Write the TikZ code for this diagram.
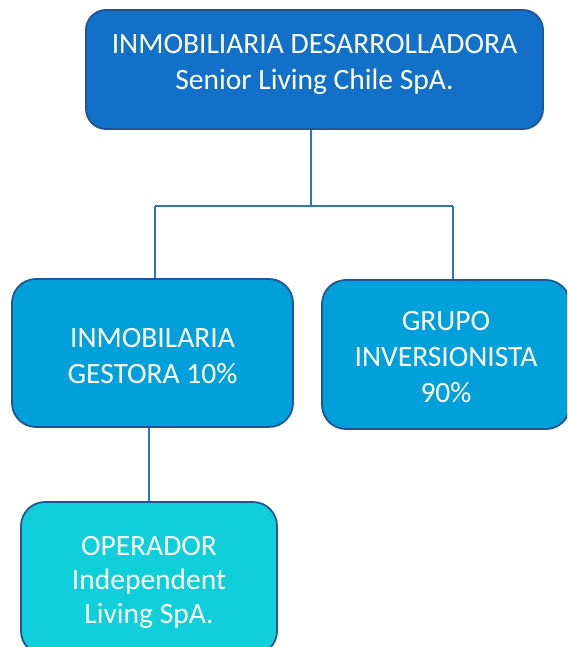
\documentclass[tikz,border=0pt]{standalone}
\usepackage{fontspec}
\setmainfont{Carlito}
\definecolor{topfill}{HTML}{1270C8}
\definecolor{midfill}{HTML}{02A0DA}
\definecolor{botfill}{HTML}{0FCFDA}
\definecolor{edgeblue}{HTML}{1F5596}
\definecolor{linkblue}{HTML}{2E75C0}
\begin{document}
\begin{tikzpicture}[x=1pt,y=-1pt,
  boxbase/.style={draw=edgeblue, line width=1.8pt, inner sep=0pt},
  topbox/.style={boxbase, fill=topfill, rounded corners=20pt},
  midbox/.style={boxbase, fill=midfill, rounded corners=24pt},
  botbox/.style={boxbase, fill=botfill, rounded corners=24pt},
  label/.style={text=white, align=center, font=\fontsize{29.5}{36}\selectfont, inner sep=0pt},
  link/.style={draw=linkblue, line width=2.2pt}]
\useasboundingbox (0,0) rectangle (567,647);
\clip (0,0) rectangle (567,647);
% boxes
\node[topbox, minimum width=457pt, minimum height=119pt] (top) at (314.5,69.5) {};
\node[midbox, minimum width=281pt, minimum height=148pt] (left) at (152.5,353) {};
\node[midbox, minimum width=248pt, minimum height=149pt] (right) at (446,354.5) {};
\node[botbox, minimum width=256pt, minimum height=153pt] (bot) at (149,578.5) {};
% texts
\node[label] (toptext) at (314.5,64) {INMOBILIARIA DESARROLLADORA\\Senior Living Chile SpA.};
\node[label] (lefttext) at (152.5,356.5) {INMOBILARIA\\GESTORA 10\%};
\node[label] (righttext) at (446,357) {GRUPO\\INVERSIONISTA\\90\%};
\node[label, font=\fontsize{29.5}{34}\selectfont] (bottext) at (149,582) {OPERADOR\\Independent\\Living SpA.};
% connectors
\coordinate (bus) at (311,206);
\coordinate (busl) at (155,206);
\coordinate (busr) at (453,206);
\draw[link] (top.south -| bus) -- (bus);
\draw[link] (busl) -- (busr);
\draw[link] (busl) -- (left.north -| busl);
\draw[link] (busr) -- (right.north -| busr);
\draw[link] (left.south -| bot.north) -- (bot.north);
\end{tikzpicture}
\end{document}
